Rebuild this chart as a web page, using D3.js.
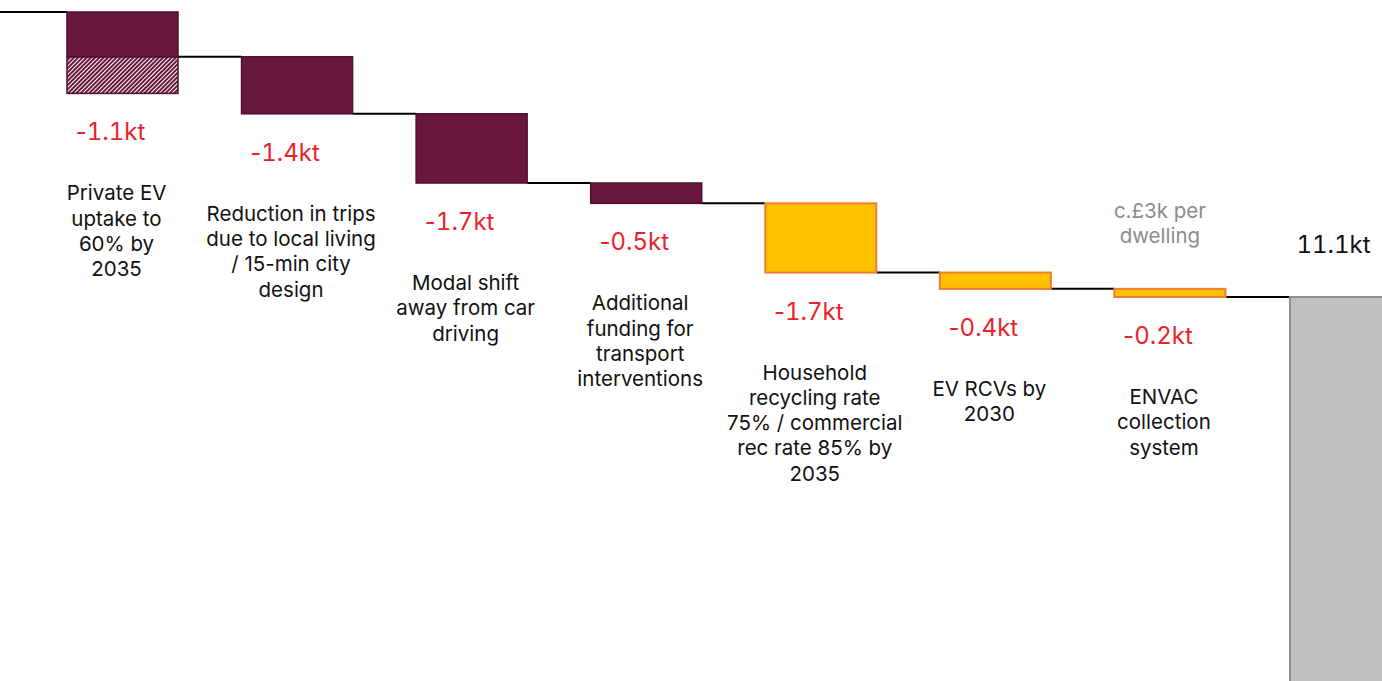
<!DOCTYPE html>
<html>
<head>
<meta charset="utf-8">
<script src="https://cdn.jsdelivr.net/npm/d3@7"></script>
<style>
  html, body { margin: 0; padding: 0; background: #ffffff; overflow: hidden; }
  svg { display: block; }
  .num { font-feature-settings: "tnum" 1; }
</style>
</head>
<body>
<svg id="chart" width="1382" height="681"></svg>
<script>
// Emission reduction steps (kt CO2e), in order of application
const stepKeys = ["ev", "trips", "modal", "funding", "recycling", "rcv", "envac"];
const stepLines = [
  ["Private EV", "uptake to", "60% by", "2035"],
  ["Reduction in trips", "due to local living", "/ 15-min city", "design"],
  ["Modal shift", "away from car", "driving"],
  ["Additional", "funding for", "transport", "interventions"],
  ["Household", "recycling rate", "75% / commercial", "rec rate 85% by", "2035"],
  ["EV RCVs by", "2030"],
  ["ENVAC", "collection", "system"]
];
const stepValues = [-1.1, -1.4, -1.7, -0.5, -1.7, -0.4, -0.2];
const stepValueLabels = ["-1.1kt", "-1.4kt", "-1.7kt", "-0.5kt", "-1.7kt", "-0.4kt", "-0.2kt"];
const stepSector = ["transport", "transport", "transport", "transport", "waste", "waste", "waste"];
// additional potential beyond the committed reduction (hatched)
const stepPotential = [0.9, 0, 0, 0, 0, 0, 0];
const stepNotes = [[], [], [], [], [], [], ["c.£3k per", "dwelling"]];

const totalKey = "total";
const totalValue = 11.1;
const totalLabel = "11.1kt";
const startKey = "start";

const sectorFill = { transport: "#69173d", waste: "#ffc000" };
const sectorStroke = { transport: "#4f1130", waste: "#ed7d31" };

const svg = d3.select("#chart");

const startValue = totalValue - d3.sum(stepValues);

const x = d3.scaleBand()
  .domain([startKey, ...stepKeys, totalKey])
  .range([-107.6, 1400])
  .paddingInner(0.364)
  .paddingOuter(0);

const y = d3.scaleLinear()
  .domain([0, startValue])
  .range([748.9, 12]);

// running levels
let level = startValue;
const steps = stepKeys.map((k, i) => {
  const top = level;
  const bottom = level + stepValues[i];
  level = bottom;
  return {
    key: k, top, bottom, value: stepValues[i], label: stepValueLabels[i],
    lines: stepLines[i], sector: stepSector[i], potential: stepPotential[i], notes: stepNotes[i]
  };
});

const bw = x.bandwidth();

// hatch pattern for the potential part
const defs = svg.append("defs");
const pat = defs.append("pattern")
  .attr("id", "hatch")
  .attr("patternUnits", "userSpaceOnUse")
  .attr("width", 3).attr("height", 3)
  .attr("patternTransform", "rotate(45)");
pat.append("rect").attr("width", 3).attr("height", 3).attr("fill", sectorFill.transport);
pat.append("line").attr("x1", 1.5).attr("y1", 0).attr("x2", 1.5).attr("y2", 3)
  .attr("stroke", "#ffffff").attr("stroke-width", 1.6)
  .attr("shape-rendering", "crispEdges");

// connectors
const levels = [{ key: startKey, v: startValue }, ...steps.map(s => ({ key: s.key, v: s.bottom }))];
const keysAll = [startKey, ...stepKeys, totalKey];
const conn = svg.append("g").attr("stroke", "#000").attr("stroke-width", 2);
levels.forEach((l, i) => {
  const x1 = l.key === startKey ? x(startKey) : x(l.key) + bw;
  const x2 = x(keysAll[i + 1]);
  conn.append("line")
    .attr("x1", x1).attr("x2", x2)
    .attr("y1", y(l.v)).attr("y2", y(l.v));
});

// total bar
svg.append("rect")
  .attr("x", x(totalKey) + 1)
  .attr("y", y(totalValue))
  .attr("width", bw)
  .attr("height", y(0) - y(totalValue))
  .attr("fill", "#bfbfbf")
  .attr("stroke", "#8f8f8f")
  .attr("stroke-width", 2);

// step bars
const bars = svg.append("g");
steps.forEach(s => {
  if (s.potential > 0) {
    bars.append("rect")
      .attr("x", x(s.key))
      .attr("y", y(s.bottom))
      .attr("width", bw)
      .attr("height", y(s.bottom - s.potential) - y(s.bottom))
      .attr("fill", "url(#hatch)")
      .attr("stroke", sectorStroke[s.sector])
      .attr("stroke-width", 1.5);
  }
  bars.append("rect")
    .attr("x", x(s.key))
    .attr("y", y(s.top))
    .attr("width", bw)
    .attr("height", y(s.bottom) - y(s.top))
    .attr("fill", sectorFill[s.sector])
    .attr("stroke", sectorStroke[s.sector])
    .attr("stroke-width", s.sector === "waste" ? 2 : 1.5);
});

// value text: sign kept proportional, figures tabular
function valueText(sel, str) {
  const sign = str[0] === "-" ? "-" : "";
  if (sign) sel.append("tspan").text(sign);
  sel.append("tspan").attr("class", "num").text(str.slice(sign.length));
}

// labels
const font = "Inter, 'Noto Sans', sans-serif";
const labels = svg.append("g").attr("font-family", font).attr("text-anchor", "middle");
steps.forEach(s => {
  const cx = x(s.key) + bw / 2;
  const base = y(s.bottom - s.potential);
  const v = labels.append("text")
    .attr("x", cx - 12)
    .attr("y", base + 47)
    .attr("fill", "#e8232d")
    .attr("font-size", 24);
  valueText(v, s.label);
  const t = labels.append("text")
    .attr("x", cx - 6)
    .attr("y", base + 107)
    .attr("fill", "#111")
    .attr("font-size", 20.5);
  s.lines.forEach((ln, j) => {
    t.append("tspan").attr("x", cx - 6).attr("dy", j === 0 ? 0 : 25.3).text(ln);
  });
  if (s.notes.length) {
    const n = labels.append("text")
      .attr("x", cx - 10)
      .attr("y", y(s.top) - 71)
      .attr("fill", "#8c8c8c")
      .attr("font-size", 20.5);
    s.notes.forEach((ln, j) => {
      n.append("tspan").attr("x", cx - 10).attr("dy", j === 0 ? 0 : 25).text(ln);
    });
  }
});

const tl = labels.append("text")
  .attr("x", x(totalKey) + bw / 2 - 11)
  .attr("y", y(totalValue) - 44)
  .attr("fill", "#111")
  .attr("font-size", 24);
valueText(tl, totalLabel);
</script>
</body>
</html>
